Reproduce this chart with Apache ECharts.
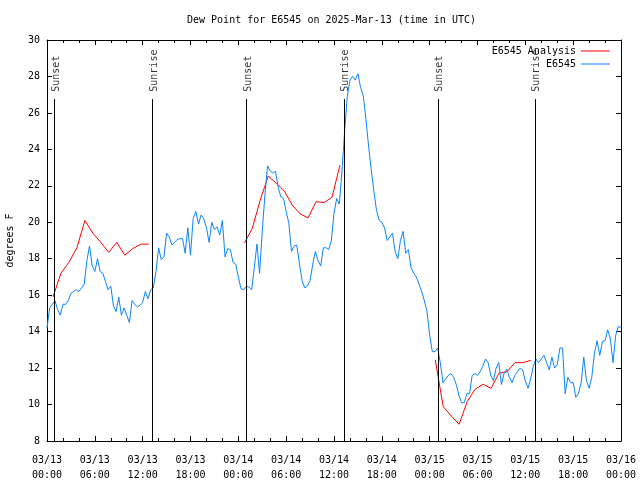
<!DOCTYPE html>
<html><head><meta charset="utf-8">
<script src="https://cdn.jsdelivr.net/npm/echarts@6/dist/echarts.min.js"></script>
<style>html,body{margin:0;padding:0;background:#fff}#c{width:640px;height:480px}</style>
</head><body><div id="c"></div>
<script>
const titleText = 'Dew Point for E6545 on 2025-Mar-13 (time in UTC)';
const startUTC = Date.UTC(2025, 2, 13, 0, 0);
const obsName = 'E6545';
const analysisName = 'E6545 Analysis';
const yAxisName = 'degrees F';
const xTickHours = 6;
const yMin = 8, yMax = 30, yStep = 2;

// observations, every 20 minutes from 03/13 00:00 UTC
const obsStepHours = 1 / 3;
const obsValues = [
  14.2, 15.3, 15.5, 15.7, 15.2, 14.9, 15.5, 15.5, 15.7, 16.1, 16.2, 16.3, 16.2, 16.4, 16.6, 17.9, 18.7, 17.6, 17.3, 18.0,
  17.3, 17.2, 16.75, 16.3, 16.5, 15.4, 15.1, 15.9, 14.9, 15.3, 14.9, 14.5, 15.7, 15.5, 15.35, 15.45, 15.6, 16.2, 15.8, 16.3, 16.4,
  17.3, 18.6, 17.95, 18.1, 19.4, 19.2, 18.75, 18.9, 19.05, 19.1, 19.1, 18.3, 19.7, 18.2, 20.2, 20.6, 19.9, 20.4, 20.2, 19.7,
  18.9, 20.0, 19.6, 19.75, 19.3, 20.1, 18.1, 18.55, 18.5, 17.8, 17.7, 17.0, 16.35, 16.3, 16.5, 16.45, 16.3, 17.5, 18.8, 17.2,
  19.5, 21.5, 23.1,
  22.8, 22.7, 22.8, 21.9, 21.4, 21.3, 20.6, 19.95, 18.4, 18.7,
  18.75, 17.7, 16.8, 16.4, 16.5, 16.8, 17.7, 18.4, 17.9, 17.6,
  18.6, 18.6, 18.5, 19.0, 20.5, 21.3, 21.0, 22.8, 25.0, 26.9,
  27.8, 28.0, 27.8, 28.15, 27.4, 26.95, 25.7, 24.2, 22.9, 21.7,
  20.65, 20.1, 20.0, 19.7, 19.0, 19.2, 19.4, 18.4, 18.0, 19.0,
  19.5, 18.3, 18.5, 17.5, 17.2, 17.0, 16.6, 16.2, 15.7, 15.1,
  13.8, 12.9, 12.9, 13.1, 12.3, 11.2, 11.4, 11.6, 11.7, 11.5,
  11.1, 10.5, 10.1, 10.1, 10.6, 10.6, 11.6, 11.7, 11.6, 11.8,
  12.1, 12.5, 12.3, 11.6, 11.3, 12.0, 12.3, 11.1, 11.7, 11.95,
  11.5, 11.2, 11.6, 11.8, 12.0, 11.9, 11.3, 10.9, 11.4, 12.1,
  12.5, 12.3, 12.5, 12.7, 12.3, 11.9, 12.6, 12.0, 12.2, 13.1,
  13.1, 10.6, 11.5, 11.2, 11.2, 10.4, 10.6, 11.2, 12.6, 11.3,
  10.9, 11.5, 12.8, 13.5, 12.7, 13.45, 13.5, 14.1, 13.6, 12.3,
  13.8, 14.3, 14.2
];

// hourly analysis, three runs
const analysisStartHours = [0.75, 24.75, 48.7];
const analysisDay1 = [15.9, 17.2, 17.8, 18.6, 20.1, 19.4, 18.9, 18.35, 18.9, 18.2, 18.55, 18.8, 18.8];
const analysisDay2 = [18.85, 19.67, 21.22, 22.54, 22.14, 21.73, 20.95, 20.46, 20.24, 21.13, 21.08, 21.37, 23.14];
const analysisDay3 = [12.45, 9.89, 9.37, 8.92, 10.16, 10.84, 11.11, 10.89, 11.72, 11.8, 12.3, 12.3, 12.43];

// sun events, hours since 03/13 00:00 UTC
const sunsetHours = [0.95, 25.03, 49.07];
const sunriseHours = [13.23, 37.28, 61.23];
const sunLineTop = 26.76;
const sunLabelBase = 27.16;

const FONT = 'DejaVu Sans Mono';
const BLUE = '#0a84ff';
const RED = '#ff0000';

const obsData = obsValues.map((v, i) => [i * obsStepHours, v]);
const analysisData = [];
[analysisDay1, analysisDay2, analysisDay3].forEach((arr, d) => {
  arr.forEach((v, i) => analysisData.push([analysisStartHours[d] + i, v]));
  analysisData.push([analysisStartHours[d] + arr.length - 0.5, '-']);
});
const sunEvents = [];
sunsetHours.forEach(h => sunEvents.push({ h: h, name: 'Sunset' }));
sunriseHours.forEach(h => sunEvents.push({ h: h, name: 'Sunrise' }));

function pad(n) { return String(n).padStart(2, '0'); }
function fmtX(v) {
  const d = new Date(startUTC + v * 3600000);
  return pad(d.getUTCMonth() + 1) + '/' + pad(d.getUTCDate()) + '\n' + pad(d.getUTCHours()) + ':' + pad(d.getUTCMinutes());
}

const axLine = { show: true, onZero: false, lineStyle: { color: '#000', width: 1 } };
const xCommon = {
  type: 'value', min: 0, max: 72, interval: xTickHours,
  axisLine: axLine,
  axisTick: { show: true, inside: true, length: 5, lineStyle: { color: '#000' } },
  minorTick: { show: true, splitNumber: 3, length: 3, lineStyle: { color: '#000' } },
  splitLine: { show: false }, minorSplitLine: { show: false }
};
const yCommon = {
  type: 'value', min: yMin, max: yMax, interval: yStep,
  axisLine: axLine,
  axisTick: { show: true, inside: true, length: 5, lineStyle: { color: '#000' } },
  splitLine: { show: false }
};
const legendCommon = {
  right: 30, align: 'right', icon: 'rect', itemWidth: 29, itemHeight: 1, padding: 0,
  selectedMode: false, textStyle: { fontSize: 10, color: '#000', fontFamily: FONT }
};

const chart = echarts.init(document.getElementById('c'), null, { renderer: 'canvas' });
chart.setOption({
  animation: false,
  backgroundColor: '#ffffff',
  textStyle: { fontFamily: FONT },
  title: {
    text: titleText, left: 187, top: 15, padding: 0,
    textStyle: { fontSize: 10, fontWeight: 'normal', color: '#000', fontFamily: FONT }
  },
  legend: [
    Object.assign({}, legendCommon, { data: [analysisName], top: 46 }),
    Object.assign({}, legendCommon, { data: [obsName], top: 59 })
  ],
  grid: { left: 47, right: 19, top: 40, bottom: 39, containLabel: false, outerBoundsMode: 'none' },
  xAxis: [
    Object.assign({}, xCommon, { position: 'bottom',
      axisLabel: { formatter: fmtX, fontSize: 10, color: '#000', margin: 12, lineHeight: 15, fontFamily: FONT } }),
    Object.assign({}, xCommon, { position: 'top', axisLabel: { show: false } })
  ],
  yAxis: [
    Object.assign({}, yCommon, { position: 'left', name: yAxisName, nameLocation: 'middle', nameGap: 32,
      nameTextStyle: { fontSize: 10, color: '#000', fontFamily: FONT },
      axisLabel: { fontSize: 10, color: '#000', margin: 7, fontFamily: FONT } }),
    Object.assign({}, yCommon, { position: 'right', axisLabel: { show: false } })
  ],
  series: [
    {
      type: 'scatter', name: 'sun', z: 1, silent: true,
      symbolSize: 0.1, itemStyle: { color: 'rgba(0,0,0,0)' },
      data: sunEvents.map(e => ({ value: [e.h, sunLabelBase], name: e.name })),
      label: { show: true, formatter: '{b}', rotate: 90, position: [1.5, 0], align: 'left', verticalAlign: 'middle',
        fontSize: 10, color: '#000', fontFamily: FONT },
      markLine: {
        silent: true, symbol: ['none', 'none'], label: { show: false },
        lineStyle: { color: '#000', width: 1, type: 'solid' },
        data: sunEvents.map(e => [{ coord: [e.h, yMin] }, { coord: [e.h, sunLineTop] }])
      }
    },
    {
      type: 'line', name: analysisName, z: 2, data: analysisData, symbol: 'none', connectNulls: false,
      lineStyle: { color: RED, width: 1 }, itemStyle: { color: RED }, emphasis: { disabled: true }
    },
    {
      type: 'line', name: obsName, z: 3, data: obsData, symbol: 'none',
      lineStyle: { color: BLUE, width: 1 }, itemStyle: { color: BLUE }, emphasis: { disabled: true }
    }
  ]
});
</script>
</body></html>
